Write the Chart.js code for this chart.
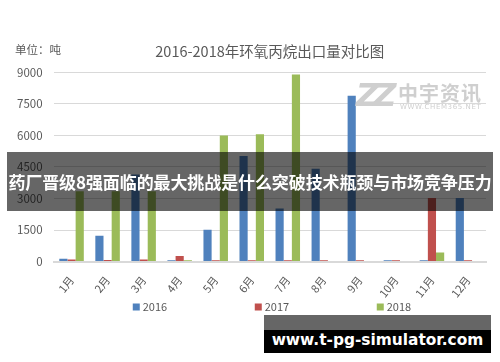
<!DOCTYPE html>
<html>
<head>
<meta charset="utf-8">
<script src="https://cdn.jsdelivr.net/npm/chart.js@4"></script>
<style>
  html, body { margin: 0; padding: 0; background: #fff; }
  #wrap { position: relative; width: 500px; height: 362px; overflow: hidden; }
  canvas { display: block; }
  .ov { position: absolute; }
  #banner { left: 7px; top: 152px; width: 486px; height: 59px; background: rgba(0,0,0,0.6);
    color: #fff; font: bold 17px "Noto Sans CJK SC", sans-serif; line-height: 59px; text-align: center; white-space: nowrap; letter-spacing: -0.1px; }
  #siteTop { left: 264px; top: 315px; width: 227px; height: 15px; background: rgba(0,0,0,0.6); }
  #site { left: 264px; top: 330px; width: 227px; height: 23px; background: #000; color: #fff;
    font: bold 15.4px "DejaVu Sans", sans-serif; line-height: 21px; text-align: center; white-space: nowrap; }
  #wm { left: 356px; top: 76px; color: #cfcfcf; white-space: nowrap; }
  #wm .z { position: absolute; left: 0; top: 0; font: italic bold 32px "DejaVu Sans", sans-serif; letter-spacing: -6px; }
  #wm .t { position: absolute; left: 42px; top: 2px; font: bold 20px "Noto Sans CJK SC", sans-serif; letter-spacing: 1px; }
  #wm .u { position: absolute; left: 44px; top: 27px; font: 7px "DejaVu Sans", sans-serif; letter-spacing: 0.6px; }
</style>
</head>
<body>
<div id="wrap">
  <canvas id="c" width="500" height="362"></canvas>
  <div class="ov" id="wm"><span class="z">ZZ</span><span class="t">中宇资讯</span><span class="u">WWW.CHEM365.NET</span></div>
  <div class="ov" id="banner">药厂晋级8强面临的最大挑战是什么突破技术瓶颈与市场竞争压力</div>
  <div class="ov" id="siteTop"></div>
  <div class="ov" id="site">www.t-pg-simulator.com</div>
</div>
<script>
const months = ['1月','2月','3月','4月','5月','6月','7月','8月','9月','10月','11月','12月'];
const years = ['2016','2017','2018'];
const s2016 = [140, 1230, 4140, 60, 1510, 5020, 2520, 4420, 7890, 60, 60, 3030];
const s2017 = [100, 70, 100, 270, 60, 60, 60, 60, 60, 60, 3030, 60];
const s2018 = [3350, 3350, 3350, 60, 6000, 6060, 8900, 0, 0, 0, 430, 0];
const yTicks = [0, 1500, 3000, 4500, 6000, 7500, 9000];
const colors = ['#4F81BD', '#C0504D', '#9BBB59'];
const titleText = '2016-2018年环氧丙烷出口量对比图';
const unitText = '单位：吨';

const FONT = '"Noto Sans CJK SC", sans-serif';
const TXT = '#595959';

const legendPlugin = {
  id: 'customLegend',
  afterDraw(chart) {
    const ctx = chart.ctx;
    const area = chart.chartArea;
    ctx.save();
    ctx.textBaseline = 'middle';
    ctx.textAlign = 'left';
    ctx.fillStyle = TXT;
    ctx.font = '11.5px ' + FONT;
    ctx.fillText(unitText, 15, 50);
    ctx.font = '11px ' + FONT;
    const cx = (area.left + area.right) / 2 + 5;
    const step = 122;
    const y = 307;
    chart.data.datasets.forEach((ds, i) => {
      const x = cx - 142 + i * step;
      ctx.fillStyle = ds.backgroundColor;
      ctx.fillRect(x, y - 3.5, 7, 7);
      ctx.fillStyle = TXT;
      ctx.fillText(ds.label, x + 10, y);
    });
    ctx.restore();
  }
};

new Chart(document.getElementById('c'), {
  type: 'bar',
  data: {
    labels: months,
    datasets: [
      { label: years[0], data: s2016, backgroundColor: colors[0] },
      { label: years[1], data: s2017, backgroundColor: colors[1] },
      { label: years[2], data: s2018, backgroundColor: colors[2] }
    ]
  },
  options: {
    responsive: false,
    animation: false,
    devicePixelRatio: 1,
    layout: { padding: { left: 6, right: 14, top: 0, bottom: 58 } },
    datasets: { bar: { barPercentage: 1, categoryPercentage: 0.68 } },
    plugins: {
      legend: { display: false },
      tooltip: { enabled: false },
      title: {
        display: true,
        text: titleText,
        fullSize: false,
        color: TXT,
        font: { family: FONT, size: 14.5, weight: 'normal' },
        padding: { top: 43, bottom: 12 }
      }
    },
    scales: {
      x: {
        grid: { display: false },
        border: { display: true, color: '#d9d9d9', width: 2 },
        ticks: { color: TXT, font: { family: FONT, size: 11 }, minRotation: 52, maxRotation: 52, padding: 4 }
      },
      y: {
        min: 0, max: 9000,
        afterBuildTicks(scale) { scale.ticks = yTicks.map(v => ({ value: v })); },
        grid: { color: '#d9d9d9', lineWidth: 1, drawTicks: false },
        border: { display: false },
        ticks: { color: TXT, font: { family: FONT, size: 11.5 }, padding: 11, callback: v => String(v) }
      }
    }
  },
  plugins: [legendPlugin]
});
</script>
</body>
</html>
